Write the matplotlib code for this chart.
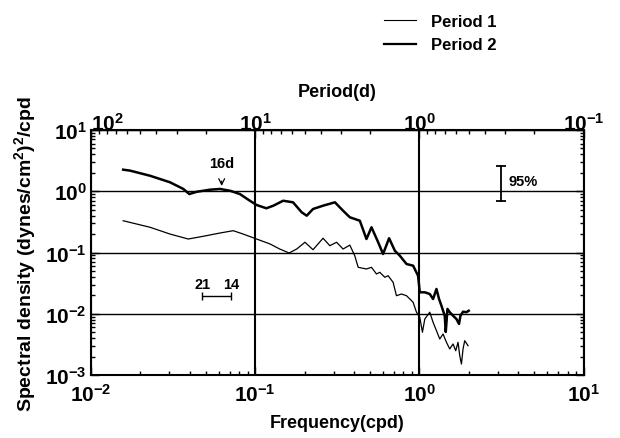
import numpy as np
import matplotlib
matplotlib.use("Agg")
import matplotlib.pyplot as plt
from matplotlib.ticker import LogLocator, FixedLocator, FuncFormatter, NullFormatter
from matplotlib.lines import Line2D

plt.rcParams['font.family'] = ['Liberation Sans', 'DejaVu Sans']
plt.rcParams['font.weight'] = 'bold'
plt.rcParams['mathtext.fontset'] = 'custom'
plt.rcParams['mathtext.rm'] = 'Liberation Sans:bold'
plt.rcParams['mathtext.bf'] = 'Liberation Sans:bold'
plt.rcParams['mathtext.it'] = 'Liberation Sans:bold'

# Period 2 (thick, upper curve)
freq2 = [0.0157, 0.0173, 0.0229, 0.0303, 0.0365, 0.0397, 0.0440, 0.0530, 0.0610,
         0.0702, 0.0807, 0.0928, 0.102, 0.117, 0.129, 0.148, 0.170, 0.192, 0.206,
         0.225, 0.259, 0.306, 0.343, 0.377, 0.434, 0.476, 0.511, 0.561, 0.601,
         0.654, 0.709, 0.760, 0.835, 0.916, 0.982, 1.006, 1.079, 1.157, 1.212,
         1.271, 1.318, 1.363, 1.427, 1.448, 1.483, 1.531, 1.604, 1.682, 1.744,
         1.779, 1.845, 1.935, 1.998]
dens2 = [2.25, 2.17, 1.79, 1.40, 1.09, 0.90, 0.98, 1.06, 1.09, 1.02, 0.90, 0.70,
         0.596, 0.527, 0.581, 0.70, 0.66, 0.453, 0.399, 0.513, 0.581, 0.66, 0.481,
         0.376, 0.330, 0.166, 0.258, 0.147, 0.0946, 0.171, 0.107, 0.0887, 0.0649,
         0.0609, 0.0418, 0.0224, 0.0224, 0.0210, 0.0174, 0.0254, 0.0174, 0.0135,
         0.00929, 0.00504, 0.0120, 0.0106, 0.00929, 0.00820, 0.00681, 0.00929,
         0.0108, 0.0106, 0.0112]

# Period 1 (thin, lower curve)
freq1 = [0.0157, 0.0229, 0.0303, 0.0391, 0.0483, 0.0610, 0.0735, 0.0845, 0.102,
         0.123, 0.141, 0.161, 0.179, 0.201, 0.225, 0.259, 0.285, 0.313, 0.343,
         0.377, 0.404, 0.424, 0.476, 0.511, 0.548, 0.574, 0.616, 0.645, 0.692,
         0.725, 0.778, 0.835, 0.916, 0.960, 1.006, 1.044, 1.079, 1.157, 1.212,
         1.271, 1.331, 1.394, 1.462, 1.531, 1.604, 1.665, 1.720, 1.762, 1.804,
         1.845, 1.889, 1.979]
dens1 = [0.330, 0.258, 0.200, 0.166, 0.184, 0.208, 0.227, 0.200, 0.166, 0.138,
         0.114, 0.0982, 0.114, 0.147, 0.111, 0.171, 0.129, 0.147, 0.114, 0.132,
         0.0887, 0.0573, 0.0538, 0.0573, 0.0446, 0.0475, 0.0394, 0.0418, 0.0326,
         0.0197, 0.0210, 0.0197, 0.0154, 0.0106, 0.00875, 0.00498, 0.00820,
         0.0106, 0.00725, 0.00529, 0.00387, 0.00467, 0.00342, 0.00266, 0.00321,
         0.00249, 0.00342, 0.00207, 0.00151, 0.00266, 0.00363, 0.00301]

labels = ['Period 1', 'Period 2']
period_ticks = [100, 10, 1, 0.1]
peak_period = 16      # days, arrow mark
band_periods = [21, 14]
conf_freq = 3.16
conf_range = [0.686, 2.61]


def inv(x):
    x = np.array(x, dtype=float)
    small = np.isclose(x, 0)
    x[small] = np.inf
    x[~small] = 1.0 / x[~small]
    return x


def sci(v, pos):
    if v <= 0:
        return ''
    e = int(round(np.log10(v)))
    if not np.isclose(v, 10.0 ** e):
        return ''
    return r'$\mathbf{10^{%d}}$' % e


fig = plt.figure(figsize=(6.2, 4.39), dpi=100)
ax = fig.add_axes([0.1468, 0.1435, 0.7944, 0.5581])
ax.set_xscale('log')
ax.set_yscale('log')
ax.set_xlim(1e-2, 1e1)
ax.set_ylim(1e-3, 1e1)

ax.plot(freq1, dens1, color='k', lw=0.9)
ax.plot(freq2, dens2, color='k', lw=1.8)

ax.grid(True, axis='y', which='major', color='k', lw=1.0)
ax.grid(True, axis='x', which='major', color='k', lw=1.5)

for sp in ax.spines.values():
    sp.set_linewidth(1.5)

ax.xaxis.set_major_locator(LogLocator(base=10, numticks=10))
ax.yaxis.set_major_locator(LogLocator(base=10, numticks=10))
ax.xaxis.set_minor_locator(LogLocator(base=10, subs=np.arange(2, 10), numticks=10))
ax.yaxis.set_minor_locator(LogLocator(base=10, subs=np.arange(2, 10), numticks=10))
ax.xaxis.set_major_formatter(FuncFormatter(sci))
ax.yaxis.set_major_formatter(FuncFormatter(sci))
ax.xaxis.set_minor_formatter(NullFormatter())
ax.yaxis.set_minor_formatter(NullFormatter())
ax.tick_params(which='both', direction='in', right=True, labelsize=15, width=1.0)
ax.tick_params(which='major', length=6, pad=3)
ax.tick_params(axis='x', which='major', pad=6)
ax.tick_params(which='minor', length=3)

ax.set_xlabel('Frequency(cpd)', fontsize=13, fontweight='bold', labelpad=6)
ax.set_ylabel('Spectral density (dynes/cm$^2$)$^2$/cpd', fontsize=14,
              fontweight='bold', labelpad=5)

sec = ax.secondary_xaxis('top', functions=(inv, inv))
sec_minor = [m * 10.0 ** d for d in (-1, 0, 1) for m in range(2, 10)]
sec.xaxis.set_major_locator(FixedLocator(period_ticks))
sec.xaxis.set_minor_locator(FixedLocator(sec_minor))
sec.xaxis.set_major_formatter(FuncFormatter(sci))
sec.xaxis.set_minor_formatter(NullFormatter())
sec.tick_params(which='both', direction='in', labelsize=15, width=1.0)
sec.tick_params(which='major', length=6, pad=-3)
sec.tick_params(which='minor', length=3)
sec.set_xlabel('Period(d)', fontsize=13, fontweight='bold', labelpad=12)
# first top label sits right of its tick, as in the original
first = sec.xaxis.get_major_ticks()[0]
first.label1.set_horizontalalignment('left')
first.label2.set_horizontalalignment('left')

# 16 day peak marker
ax.annotate('16d', xy=(1.0 / peak_period, 1.22), xytext=(1.0 / peak_period, 2.9),
            ha='center', va='center', fontsize=10.5, fontweight='bold',
            arrowprops=dict(arrowstyle='->', color='k', lw=0.9, shrinkA=6, shrinkB=0))

# bandwidth bar 21 - 14 days
bf = [1.0 / p for p in band_periods]
mid = np.sqrt(bf[0] * bf[1])
ax.errorbar([mid], [0.0195], xerr=[[mid - bf[0]], [bf[1] - mid]],
            fmt='none', ecolor='k', elinewidth=1.0, capsize=3, capthick=1.0)
for p, f in zip(band_periods, bf):
    ax.text(f, 0.031, str(p), ha='center', va='center', fontsize=10.5,
            fontweight='bold')

# 95% confidence bar
ax.plot([conf_freq, conf_freq], conf_range, color='k', lw=1.3)
ax.plot([conf_freq], [conf_range[0]], marker='_', color='k', ms=7, mew=1.3)
ax.plot([conf_freq], [conf_range[1]], marker='_', color='k', ms=7, mew=1.3)
ax.text(conf_freq * 1.1, 1.47, '95%', ha='left', va='center', fontsize=10.5,
        fontweight='bold')

handles = [Line2D([], [], color='k', lw=0.8), Line2D([], [], color='k', lw=1.6)]
fig.legend(handles, labels, loc='upper left', bbox_to_anchor=(0.595, 1.0),
           frameon=False, handlelength=1.9, handletextpad=0.9, labelspacing=0.5,
           prop={'weight': 'bold', 'size': 12})

fig.savefig('out.png', dpi=100)
